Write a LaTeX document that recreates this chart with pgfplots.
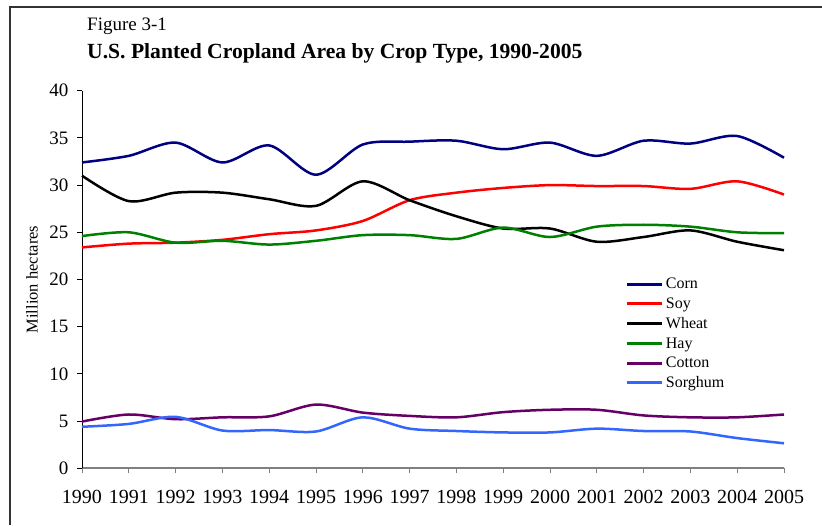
\documentclass[border=0pt]{standalone}
\usepackage{fontspec}
\setmainfont{Liberation Serif}
\usepackage{pgfplots}
\pgfplotsset{compat=1.18}

\definecolor{corn}{RGB}{0,0,128}
\definecolor{soy}{RGB}{255,0,0}
\definecolor{wheat}{RGB}{0,0,0}
\definecolor{hay}{RGB}{0,128,0}
\definecolor{cotton}{RGB}{102,0,102}
\definecolor{sorghum}{RGB}{51,102,255}

\begin{document}
\begin{tikzpicture}[x=1pt,y=1pt]
\useasboundingbox (0,0) rectangle (822,525);
% frame (only top and left edges visible)
\draw[line width=1.5pt, black!80] (10,0) -- (10,518) -- (822,518);
\node[anchor=base west, inner sep=0pt, font=\fontsize{19}{22}\selectfont] at (87,494) {Figure 3-1};
\node[anchor=base west, inner sep=0pt, font=\fontsize{21.6}{24}\selectfont\bfseries] at (87,466) {U.S. Planted Cropland Area by Crop Type, 1990-2005};

\begin{axis}[
  at={(82pt,56.7pt)}, anchor=south west,
  scale only axis, width=702pt, height=377.6pt,
  xmin=1990, xmax=2005, ymin=0, ymax=40,
  xtick={1990,1991,...,2005}, ytick={0,5,...,40},
  axis x line=bottom, axis y line=left,
  x axis line style={-, gray, line width=2pt},
  y axis line style={-, black, line width=1pt},
  tick align=outside, major tick length=5pt,
  xtick style={gray, line width=1pt},
  ytick style={black, line width=1pt},
  /pgf/number format/1000 sep={},
  /pgf/number format/assume math mode=true,
  xticklabel style={font=\fontsize{20}{22}\selectfont, yshift=-13pt},
  yticklabel style={font=\fontsize{19}{21}\selectfont, xshift=-5pt},
  ylabel={Million hectares},
  ylabel style={font=\fontsize{16.5}{18}\selectfont, at={(axis description cs:-0.0712,0.5)}, anchor=center, rotate=0},
  legend style={draw=none, fill=none, at={(0.7745,0.509)}, anchor=north west,
    font=\fontsize{16}{18}\selectfont, inner xsep=0pt, inner ysep=0pt,
    row sep=3.5pt},
  legend cell align=left,
  legend image code/.code={\draw[#1, line width=3pt] (0pt,0pt) -- (35pt,0pt);},
  every axis plot/.append style={line width=2.5pt, smooth, no marks},
  clip=false,
]
\addplot[corn] coordinates {(1990,32.4) (1991,33.1) (1992,34.5) (1993,32.4) (1994,34.2) (1995,31.1) (1996,34.3) (1997,34.6) (1998,34.7) (1999,33.8) (2000,34.5) (2001,33.1) (2002,34.7) (2003,34.4) (2004,35.2) (2005,32.9)};
\addlegendentry{Corn}
\addplot[soy] coordinates {(1990,23.4) (1991,23.8) (1992,23.9) (1993,24.2) (1994,24.8) (1995,25.2) (1996,26.2) (1997,28.4) (1998,29.2) (1999,29.7) (2000,30.0) (2001,29.9) (2002,29.9) (2003,29.6) (2004,30.4) (2005,29.0)};
\addlegendentry{Soy}
\addplot[wheat] coordinates {(1990,31.0) (1991,28.3) (1992,29.2) (1993,29.2) (1994,28.5) (1995,27.8) (1996,30.4) (1997,28.4) (1998,26.7) (1999,25.4) (2000,25.4) (2001,24.0) (2002,24.5) (2003,25.2) (2004,24.0) (2005,23.1)};
\addlegendentry{Wheat}
\addplot[hay] coordinates {(1990,24.6) (1991,25.0) (1992,23.9) (1993,24.1) (1994,23.7) (1995,24.1) (1996,24.7) (1997,24.7) (1998,24.3) (1999,25.5) (2000,24.5) (2001,25.6) (2002,25.8) (2003,25.6) (2004,25.0) (2005,24.9)};
\addlegendentry{Hay}
\addplot[cotton] coordinates {(1990,4.95) (1991,5.7) (1992,5.2) (1993,5.4) (1994,5.5) (1995,6.75) (1996,5.9) (1997,5.55) (1998,5.4) (1999,5.95) (2000,6.2) (2001,6.2) (2002,5.6) (2003,5.4) (2004,5.4) (2005,5.7)};
\addlegendentry{Cotton}
\addplot[sorghum] coordinates {(1990,4.4) (1991,4.7) (1992,5.45) (1993,4.0) (1994,4.05) (1995,3.9) (1996,5.4) (1997,4.2) (1998,3.95) (1999,3.8) (2000,3.8) (2001,4.2) (2002,3.95) (2003,3.9) (2004,3.2) (2005,2.65)};
\addlegendentry{Sorghum}
\end{axis}
\end{tikzpicture}
\end{document}
